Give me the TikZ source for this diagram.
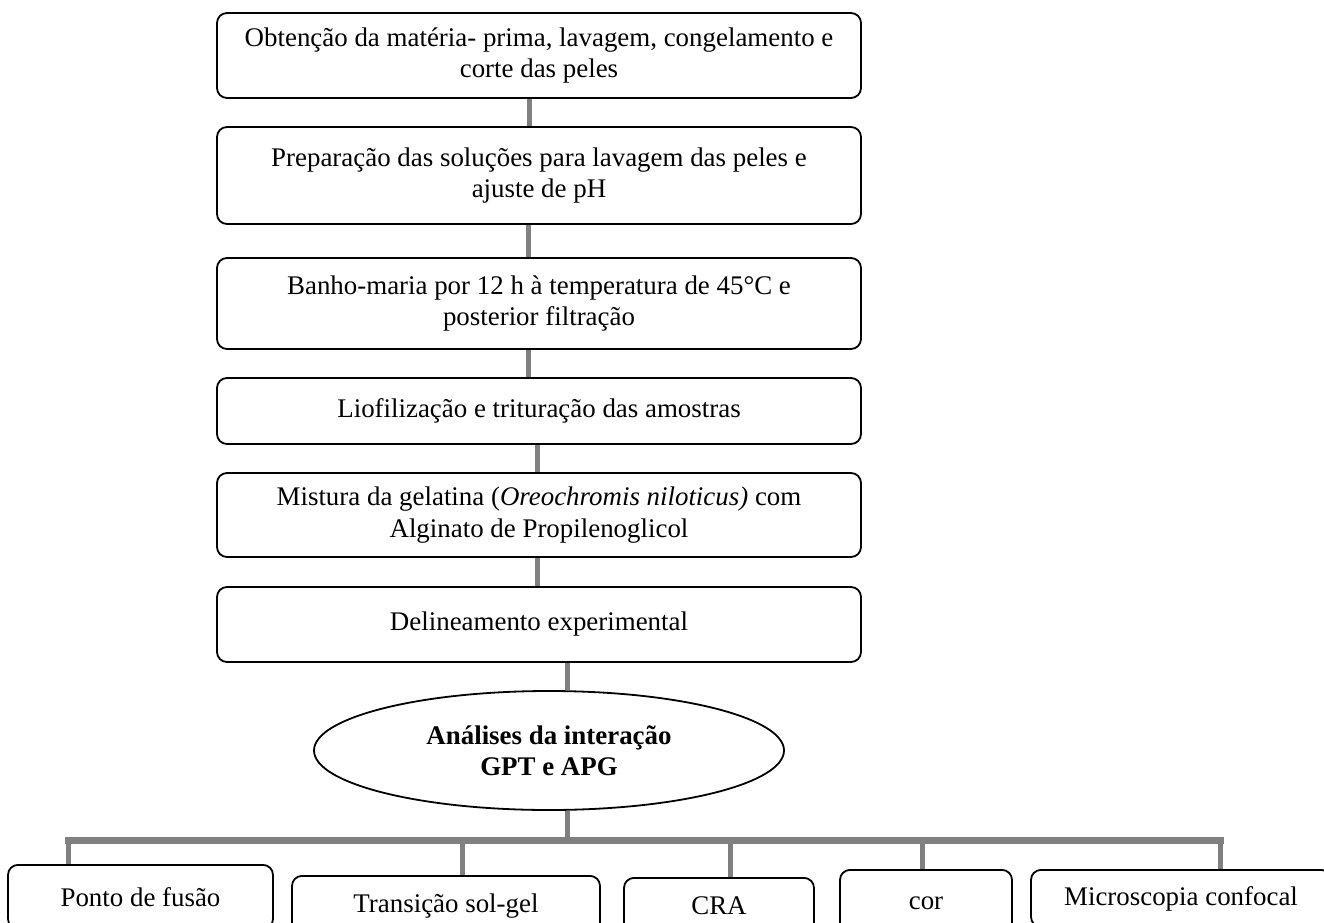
\documentclass[tikz,border=0pt]{standalone}
\usepackage{fontspec}
\setmainfont{Liberation Serif}
\usetikzlibrary{shapes.geometric}
\begin{document}
\begin{tikzpicture}[x=0.5pt,y=-0.5pt,
  txt/.style={font=\fontsize{13.45}{15.6}\selectfont},
  stepbox/.style={draw, rounded corners=5pt, line width=0.9pt, minimum width=322pt, align=center, inner sep=0pt, txt},
  leaf/.style={draw, rounded corners=5pt, line width=0.9pt, anchor=north, inner sep=0pt, align=center, txt},
  oval/.style={draw, ellipse, line width=0.9pt, inner sep=0pt, align=center, font=\fontsize{13.45}{15.6}\selectfont\bfseries},
  conn/.style={draw=black!50, line width=2.5pt},
  bar/.style={draw=black!50, line width=3.5pt, line cap=rect}]
\useasboundingbox (0,0) rectangle (1324,922);
\clip (0,0) rectangle (1324,922);
\fill[white] (0,0) rectangle (1324,922);

\node[stepbox, minimum height=42.5pt] (b1) at (539,55.5) {Obtenção da matéria- prima, lavagem, congelamento e\\corte das peles};
\node[stepbox, minimum height=48.5pt] (b2) at (539,175.5) {Preparação das soluções para lavagem das peles e\\ajuste de pH};
\node[stepbox, minimum height=45.5pt] (b3) at (539,303.5) {Banho-maria por 12 h à temperatura de 45°C e\\posterior filtração};
\node[stepbox, minimum height=33pt] (b4) at (539,411) {Liofilização e trituração das amostras};
\node[stepbox, minimum height=42pt] (b5) at (539,515) {Mistura da gelatina (\textit{Oreochromis niloticus)} com\\Alginato de Propilenoglicol};
\node[stepbox, minimum height=37.5pt] (b6) at (539,624.5) {Delineamento experimental};
\node[oval, minimum width=235pt, minimum height=59.5pt] (ell) at (549,750.5) {Análises da interação\\GPT e APG};

\node[leaf, minimum width=132.5pt, minimum height=32pt] (p1) at (140.5,864) {Ponto de fusão};
\node[leaf, minimum width=154pt, minimum height=30pt] (p2) at (446,875) {Transição sol-gel};
\node[leaf, minimum width=95pt, minimum height=28pt] (p3) at (719,877) {CRA};
\node[leaf, minimum width=86pt, minimum height=33pt] (p4) at (926,869) {cor};
\node[leaf, minimum width=150pt, minimum height=28.5pt] (p5) at (1181,869) {Microscopia confocal};

\draw[conn] ([xshift=-5pt]b1.south) -- ([xshift=-5pt]b2.north);
\draw[conn] ([xshift=-5.5pt]b2.south) -- ([xshift=-5.5pt]b3.north);
\draw[conn] ([xshift=-5.5pt]b3.south) -- ([xshift=-5.5pt]b4.north);
\draw[conn] ([xshift=-1pt]b4.south) -- ([xshift=-1pt]b5.north);
\draw[conn] ([xshift=-1pt]b5.south) -- ([xshift=-1pt]b6.north);
\draw[conn] ([xshift=14pt]b6.south) -- ([xshift=14pt]b6.south |- ell.north);

\coordinate (j) at (567,840);
\coordinate (d1) at (68,840);
\coordinate (d2) at (462,840);
\coordinate (d3) at (730,840);
\coordinate (d4) at (922,840);
\coordinate (d5) at (1220,840);
\draw[conn] ([xshift=9pt]ell.south) -- (j);
\draw[bar] (d1) -- (d5);
\draw[conn] (d1) -- (d1 |- p1.north);
\draw[conn] (d2) -- (d2 |- p2.north);
\draw[conn] (d3) -- (d3 |- p3.north);
\draw[conn] (d4) -- (d4 |- p4.north);
\draw[conn] (d5) -- (d5 |- p5.north);
\end{tikzpicture}
\end{document}
